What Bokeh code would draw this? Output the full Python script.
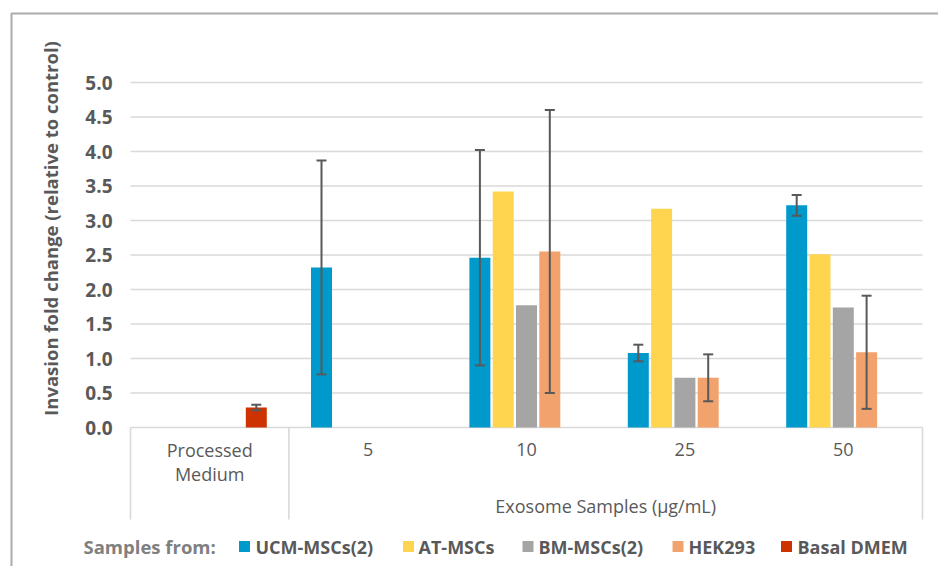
import math
from bokeh.plotting import figure
from bokeh.models import Range1d, ColumnDataSource
from bokeh.core.properties import value
from bokeh.embed import file_html
from bokeh.resources import INLINE

# ---------------- data ----------------
categories = ["Processed Medium", "5", "10", "25", "50"]
group_label = "Exosome Samples (\u00b5g/mL)"
legend_title = "Samples from:"
series_names = ["UCM-MSCs(2)", "AT-MSCs", "BM-MSCs(2)", "HEK293", "Basal DMEM"]

ucm = [None, 2.32, 2.46, 1.08, 3.22]
ucm_err = [None, 1.55, 1.56, 0.12, 0.15]
at_mscs = [None, None, 3.42, 3.17, 2.51]
at_err = [None, None, None, None, None]
bm = [None, None, 1.77, 0.72, 1.74]
bm_err = [None, None, None, None, None]
hek = [None, None, 2.55, 0.72, 1.09]
hek_err = [None, None, 2.05, 0.34, 0.82]
basal = [0.29, None, None, None, None]
basal_err = [0.04, None, None, None, None]

y_ticks = [0.0, 0.5, 1.0, 1.5, 2.0, 2.5, 3.0, 3.5, 4.0, 4.5, 5.0]
y_title = "Invasion fold change (relative to control)"

colors = ["#0099CC", "#FFD54F", "#A5A5A5", "#F2A26C", "#CC3300"]

# ---------------- layout ----------------
W, H = 938, 566
PL, PR = 130, 922      # plot area left/right pixels
PT, PB = 82, 427       # pixels of y max / y = 0
YMAX = y_ticks[-1]
ncat = len(categories)
kx = (PR - PL) / ncat
ky = (PB - PT) / YMAX


def dx(px):
    return (px - PL) / kx


def dy(py):
    return (PB - py) / ky


p = figure(width=W, height=H, x_range=Range1d(dx(0), dx(W)), y_range=Range1d(dy(H), dy(0)),
           output_backend="svg", toolbar_location=None, x_axis_type=None, y_axis_type=None,
           min_border=0, min_border_left=0, min_border_right=0, min_border_top=0,
           min_border_bottom=0, outline_line_color=None,
           background_fill_color="white", border_fill_color="white")

GRID = "#D9D9D9"
TXT = "#595959"

# outer chart border (top and left visible)
p.line(x=[dx(W + 5), dx(11), dx(11)], y=[dy(13), dy(13), dy(H + 5)],
       line_color="#ABABAB", line_width=2)

# gridlines
gy = [t for t in y_ticks if t > 0]
p.segment(x0=[0] * len(gy), x1=[ncat] * len(gy), y0=gy, y1=gy, line_color=GRID, line_width=1.6)

# category table lines
p.segment(x0=[0], x1=[ncat], y0=[0], y1=[0], line_color=GRID, line_width=1.6)
vx = [0, 1, ncat]
p.segment(x0=vx, x1=vx, y0=[0] * 3, y1=[dy(519)] * 3, line_color=GRID, line_width=1.6)

# bars + error bars
series = [(ucm, ucm_err), (at_mscs, at_err), (bm, bm_err), (hek, hek_err), (basal, basal_err)]
step = 23.3 / kx
bw = 21 / kx
cap = 5 / kx
for si, ((vals, errs), col) in enumerate(zip(series, colors)):
    off = (si - 2) * step
    xs, tops, ex, elo, ehi = [], [], [], [], []
    for ci, v in enumerate(vals):
        if v is None:
            continue
        xc = ci + 0.5 + off
        xs.append(xc)
        tops.append(v)
        if errs[ci] is not None:
            ex.append(xc)
            elo.append(v - errs[ci])
            ehi.append(v + errs[ci])
    src = ColumnDataSource(dict(x=xs, top=tops))
    p.vbar(x="x", top="top", bottom=0, width=bw, source=src, fill_color=col,
           line_color=None)
    if ex:
        p.segment(x0=ex, x1=ex, y0=elo, y1=ehi, line_color=TXT, line_width=2)
        p.segment(x0=[x - cap for x in ex], x1=[x + cap for x in ex], y0=ehi, y1=ehi,
                  line_color=TXT, line_width=2)
        p.segment(x0=[x - cap for x in ex], x1=[x + cap for x in ex], y0=elo, y1=elo,
                  line_color=TXT, line_width=2)

# y tick labels
p.text(x=[dx(112)] * len(y_ticks), y=y_ticks, text=[f"{t:.1f}" for t in y_ticks],
       text_font=value("Open Sans"), text_font_size="19px", text_font_style="bold",
       text_color=TXT, text_align="right", text_baseline="middle")

# y title
p.text(x=[dx(50)], y=[dy(228)], text=[y_title], angle=math.pi / 2,
       text_font=value("Open Sans"), text_font_size="18.5px", text_font_style="bold",
       text_color=TXT, text_align="center", text_baseline="middle")

# category labels
lx, ly, lt = [], [], []
for ci, c in enumerate(categories):
    for j, part in enumerate(c.split(" ")):
        lx.append(ci + 0.5)
        ly.append(dy(449 + 24 * j))
        lt.append(part)
p.text(x=lx, y=ly, text=lt, text_font=value("Open Sans"), text_font_size="18px",
       text_color=TXT, text_align="center", text_baseline="middle")

# group label
p.text(x=[(1 + ncat) / 2], y=[dy(505)], text=[group_label], text_font=value("Open Sans"),
       text_font_size="18px", text_color=TXT, text_align="center", text_baseline="middle")

# legend
LY = 546
p.text(x=[dx(83)], y=[dy(LY)], text=[legend_title], text_font=value("Open Sans"),
       text_font_size="18.5px", text_font_style="bold", text_color="#808080",
       text_align="left", text_baseline="middle")
sq_px = [244, 408, 527.5, 677.5, 786]
tx_px = [255, 418, 538, 688, 797]
p.scatter(x=[dx(v) for v in sq_px], y=[dy(LY)] * 5, marker="square", size=11,
          fill_color=colors, line_color=None)
p.text(x=[dx(v) for v in tx_px], y=[dy(LY)] * 5, text=series_names,
       text_font=value("Open Sans"), text_font_size="18px", text_font_style="bold",
       text_color=TXT, text_align="left", text_baseline="middle")

open("out.html", "w").write(file_html(p, INLINE))
